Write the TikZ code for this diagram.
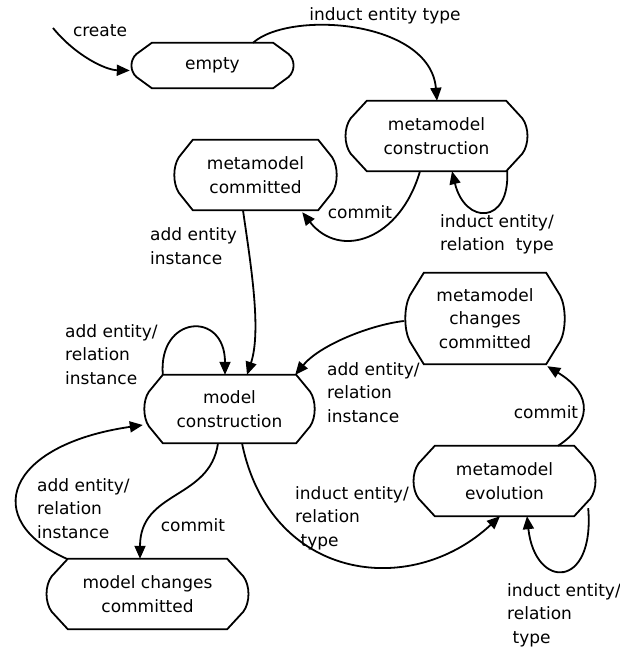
\documentclass[tikz,border=0pt]{standalone}
\usepackage{fontspec}
\setmainfont{DejaVu Sans}
\usetikzlibrary{calc,arrows.meta}

\tikzset{
  state/.style={rectangle, inner sep=0pt, align=center,
    font=\fontsize{17}{23.5}\selectfont},
  stateline/.style={line width=1.8pt, line join=miter},
  transition/.style={line width=1.8pt, -{Triangle[length=13pt,width=11pt]}},
  lbl/.style={inner sep=0pt, align=left, font=\fontsize{17}{23.5}\selectfont},
}

% Outline of a state: flat top and bottom, chamfered corners, rounded sides.
% #1 node name, #2 chamfer width, #3 node height
\newcommand\stateframe[3]{%
  \draw[stateline]
    ($(#1.north west)+(#2,0)$) -- ($(#1.north east)+(-#2,0)$)
    -- ($(#1.north east)+(-0.3*#2,0.25*#3)$)
    .. controls ($(#1.east)+(0,-0.12*#3)$) and ($(#1.east)+(0,0.12*#3)$) ..
    ($(#1.south east)+(-0.3*#2,-0.25*#3)$)
    -- ($(#1.south east)+(-#2,0)$) -- ($(#1.south west)+(#2,0)$)
    -- ($(#1.south west)+(0.3*#2,-0.25*#3)$)
    .. controls ($(#1.west)+(0,0.12*#3)$) and ($(#1.west)+(0,-0.12*#3)$) ..
    ($(#1.north west)+(0.3*#2,0.25*#3)$) -- cycle;}

\begin{document}
\begin{tikzpicture}[x=1pt,y=-1pt]
\useasboundingbox (0,0) rectangle (620,650);

% states
\node[state, minimum width=165pt, minimum height=45pt] (empty) at (212.5,65.5) {empty};
\node[state, minimum width=185pt, minimum height=70pt] (mcons) at (436.5,136) {metamodel\\construction};
\node[state, minimum width=165pt, minimum height=70pt] (mcomm) at (255.5,175) {metamodel\\committed};
\node[state, minimum width=173pt, minimum height=68pt] (mod) at (229.5,409) {model\\construction};
\node[state, minimum width=162pt, minimum height=91pt] (mchg) at (485,318.5) {metamodel\\changes\\committed};
\node[state, minimum width=205pt, minimum height=70pt] (mchgc) at (147.5,594) {model changes\\committed};
\node[state, minimum width=185pt, minimum height=70pt] (mevo) at (504.5,481) {metamodel\\evolution};

\stateframe{empty}{22}{45}
\stateframe{mcons}{23}{70}
\stateframe{mcomm}{20}{70}
\stateframe{mod}{20}{68}
\stateframe{mchg}{20}{91}
\stateframe{mchgc}{23}{70}
\stateframe{mevo}{23}{70}

% transitions
\coordinate (init) at (53,28);
\draw[transition] (init) .. controls (75,55) and (105,70) .. ($(empty.west)+(0,5)$);
\node[lbl] (lcreate) at (100,31) {create};

\draw[transition] ($(empty.north)+(40.5,0)$) .. controls (290,10) and (430,20) .. ($(mcons.north)+(0.5,0)$);
\node[lbl] (linduct) at (385,16) {induct entity type};

\draw[transition] ($(mcons.south)+(-16.5,0)$) .. controls (400,240) and (340,260) .. ($(mcomm.south east)+(-36,2)$);
\node[lbl] (lcommit1) at (360,212) {commit};

\draw[transition] ($(mcons.south east)+(-22,0)$) .. controls (510,225) and (465,225) .. ($(mcons.south)+(15.5,0)$);
\node[lbl, anchor=west] (lloop1) at (440,234.5) {induct entity/\\relation\ \ type};

\draw[transition] ($(mcomm.south)+(-12.5,0)$) .. controls (250,260) and (262,330) .. ($(mod.north)+(17.5,0)$);
\node[lbl, anchor=west] (ladd1) at (150,246) {add entity\\instance};

\draw[transition] ($(mod.north west)+(20,0)$) .. controls (158,315) and (225,310) .. ($(mod.north)+(-4.5,0)$);
\node[lbl, anchor=west] (lloop2) at (65,354.5) {add entity/\\relation\\instance};

\draw[transition] ($(mchg.west)+(0,2.5)$) .. controls (370,325) and (320,345) .. ($(mod.north east)+(-21,0)$);
\node[lbl, anchor=west] (ladd2) at (327,392.5) {add entity/\\relation\\instance};

\draw[transition] ($(mevo.north)+(53.5,0)$) .. controls (590,425) and (595,395) .. ($(mchg.south east)+(-19,2)$);
\node[lbl] (lcommit2) at (546,412) {commit};

\draw[transition] ($(mod.south)+(-11.5,0)$) .. controls (210,500) and (140,490) .. ($(mchgc.north)+(-7.5,0)$);
\node[lbl] (lcommit3) at (193,525) {commit};

\draw[transition] ($(mchgc.north west)+(22,0)$) .. controls (-20,520) and (5,445) .. ($(mod.west)+(0,16)$);
\node[lbl, anchor=west] (ladd3) at (37,508.5) {add entity/\\relation\\instance};

\draw[transition] ($(mod.south)+(12.5,0)$) .. controls (270,580) and (410,600) .. ($(mevo.south)+(-4.5,0)$);
\node[lbl, anchor=west] (linduct2) at (295,518) {induct entity/\\relation\\\ type};

\draw[transition] ($(mevo.south east)+(-9,-8)$) .. controls (595,590) and (535,590) .. ($(mevo.south)+(22.5,0)$);
\node[lbl, anchor=west] (lloop3) at (507,615) {induct entity/\\relation\\\ type};
\end{tikzpicture}
\end{document}
